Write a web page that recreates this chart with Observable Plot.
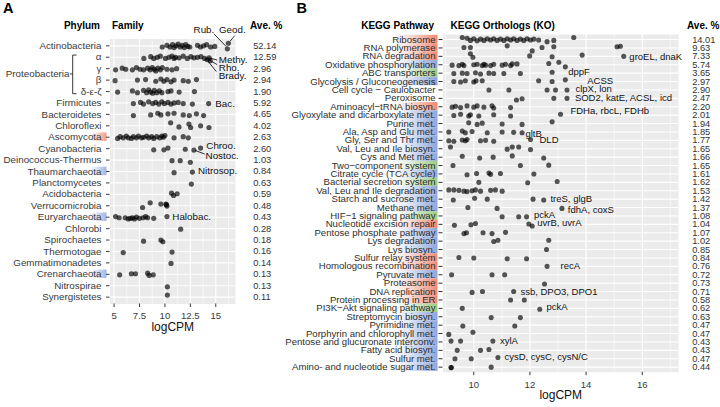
<!DOCTYPE html>
<html><head><meta charset="utf-8">
<script src="https://cdn.jsdelivr.net/npm/d3@7"></script>
<script src="https://cdn.jsdelivr.net/npm/@observablehq/plot@0.6"></script>
<style>
body{margin:0;background:#fff;}
#wrap{position:relative;width:720px;height:407px;overflow:hidden;background:#fff;}
</style></head><body><div id="wrap"></div>
<script>
const FONT = '"Liberation Sans", Arial, Helvetica, sans-serif';
const NARROW = '"Liberation Sans Narrow", "Arial Narrow", "Liberation Sans", sans-serif';

// ---------------- Panel A data ----------------
const phyla = ["Actinobacteria","α","γ","β","δ-ε-ζ","Firmicutes","Bacteroidetes","Chloroflexi","Ascomycota","Cyanobacteria","Deinococcus-Thermus","Thaumarchaeota","Planctomycetes","Acidobacteria","Verrucomicrobia","Euryarchaeota","Chlorobi","Spirochaetes","Thermotogae","Gemmatimonadetes","Crenarchaeota","Nitrospirae","Synergistetes"];
const phylaAve = ["52.14","12.59","2.96","2.94","1.90","5.92","4.65","4.02","2.63","2.60","1.03","0.84","0.63","0.59","0.48","0.43","0.28","0.18","0.16","0.14","0.13","0.13","0.11"];
const phylaGroup = ["","","","","","","","","fungi","","","archaea","","","","archaea","","","","","archaea","",""];
// each family point: [logCPM, vertical jitter in rows]
const familyPoints = [
  [[9.74,0.1],[10.2,-0.05],[10.5,0.1],[10.75,-0.1],[10.9,0.15],[11.1,0],[11.3,-0.15],[11.5,0.1],[11.7,-0.05],[11.9,0.15],[12.05,-0.1],[12.25,0.05],[12.45,0.1],[13.2,-0.05],[13.5,0.1],[13.8,0],[14.1,-0.1],[14.5,0.1],[14.9,0.05],[16.24,-0.23],[16.14,0.26]],
  [[7.93,0.1],[8.6,-0.05],[8.9,0.1],[9.25,0],[9.55,-0.1],[10.05,0.1],[10.4,0],[10.7,-0.1],[10.9,0.1],[11.05,0],[11.4,0.05],[11.8,-0.1],[12.2,0.1],[12.55,-0.05],[12.85,0.05],[13.2,0],[13.55,-0.05],[13.9,0.1],[14.15,0.2],[14.35,0.05],[14.45,0.3]],
  [[5.15,0.1],[5.8,-0.05],[6.15,0.05],[6.8,0.1],[7.2,-0.1],[7.55,0.05],[7.9,0.1],[8.3,-0.05],[8.55,0.1],[8.75,-0.1],[8.95,0.05],[9.1,0.2],[9.3,-0.05],[9.55,0.1],[9.75,-0.1],[10.2,0.05],[10.7,0.1],[11.15,0]],
  [[5.1,0.05],[7.3,0],[8.1,-0.05],[9.1,0.1],[9.6,-0.1],[9.9,0.1],[10.2,-0.05],[10.6,0.15],[10.9,0],[11.8,0.05],[12.3,0.1],[13.1,-0.05]],
  [[5.35,0.05],[6.8,-0.05],[7.3,0.1],[7.9,-0.1],[8.2,0.1],[8.4,-0.15],[8.6,0.05],[8.8,0.15],[8.95,-0.1],[9.2,0.1],[9.45,-0.05],[9.7,0.1],[10.3,0],[10.6,-0.05],[11.4,0.05],[12.9,0]],
  [[6.9,0.05],[7.6,-0.05],[7.9,0.1],[8.4,-0.1],[8.8,0.05],[9.1,-0.05],[9.4,0.1],[9.7,-0.1],[9.95,0.05],[10.3,-0.05],[10.6,0.1],[10.9,0],[11.3,-0.05],[11.8,0.05],[12.7,0.1],[14.3,0.05]],
  [[6.9,0.1],[8.6,0.05],[9.3,-0.1],[9.6,0.05],[10.3,-0.05],[10.9,-0.1],[11.8,0.05],[12.4,0.1],[13.1,-0.05],[13.8,0.1]],
  [[10.56,-0.26],[11.38,0.1],[12.36,-0.15],[12.53,0.15],[13.51,0],[14.33,0.15]],
  [[5.35,0.1],[5.6,-0.05],[5.9,0.05],[6.2,-0.1],[6.4,0.05],[6.7,0.1],[6.9,-0.05],[7.2,0.05],[7.4,-0.1],[7.7,0.05],[7.9,0],[8.2,-0.1],[8.4,0.05],[8.7,-0.05],[8.9,0.1],[9.2,-0.05],[9.5,0.05],[9.7,-0.1],[9.85,0],[10.0,-0.15],[10.9,0.05],[11.8,-0.05],[12.3,0.05]],
  [[8.9,0.1],[9.9,0.1],[10.3,-0.05],[12.0,0.05],[12.85,0.12],[13.51,-0.05]],
  [[10.7,0.05],[11.5,0.05],[12.5,0.2]],
  [[10.9,0.1],[12.7,0.05]],
  [[12.6,0.1]],
  [[10.65,-0.1],[10.85,0.1],[11.2,-0.05]],
  [[7.8,0.15],[8.55,-0.26],[9.6,-0.15],[10.1,-0.15],[10.2,0.03],[10.15,-0.1]],
  [[5.15,-0.05],[5.5,0.05],[6.1,0.05],[6.4,0.15],[6.6,0.1],[6.8,0.05],[7.0,0.15],[7.2,0],[7.5,0.1],[7.85,0.05],[8.1,-0.05],[8.3,0.05],[8.9,0.1],[10.2,-0.05]],
  [[11.55,0.05]],
  [[7.9,0.1],[9.6,0],[9.8,0.15]],
  [[5.9,0.1],[10.7,0.05]],
  [[10.6,0.05]],
  [[5.55,0.05],[6.7,-0.05],[7.1,-0.05],[8.3,-0.1],[8.45,0.1],[8.85,0.05]],
  [[10.24,0.1]],
  [[10.24,-0.18]]
];
const ticksA = [5, 7.5, 10, 12.5, 15];
const minorA = [6.25, 8.75, 11.25, 13.75, 16.25];
const annA = [
  {label:"Rub.", x:12.82, y:-1.43}, {label:"Geod.", x:15.31, y:-1.43},
  {label:"Methy.", x:15.3, y:1.25}, {label:"Rho.", x:15.3, y:1.93}, {label:"Brady.", x:15.3, y:2.6},
  {label:"Bac.", x:14.95, y:5.05}, {label:"Chroo.", x:14.07, y:8.75}, {label:"Nostoc.", x:14.0, y:9.62},
  {label:"Nitrosop.", x:13.25, y:10.94}, {label:"Halobac.", x:10.73, y:14.97}
];
const linksA = [
  {x1:14.82, y1:-1.05, x2:16.02, y2:0.06},
  {x1:16.86, y1:-0.89, x2:16.4, y2:-0.4},
  {x1:14.4, y1:1.05, x2:15.13, y2:1.25},
  {x1:14.3, y1:1.2, x2:15.13, y2:1.64},
  {x1:14.2, y1:1.3, x2:15.05, y2:2.25},
  {x1:12.95, y1:9.15, x2:13.91, y2:9.47}
];

// ---------------- Panel B data ----------------
const pathways = ["Ribosome","RNA polymerase","RNA degradation","Oxidative phosphorylation","ABC transporters","Glycolysis / Gluconeogenesis","Cell cycle − Caulobacter","Peroxisome","Aminoacyl−tRNA biosyn.","Glyoxylate and dicarboxylate met.","Purine met.","Ala, Asp and Glu met.","Gly, Ser and Thr met.","Val, Leu and Ile biosyn.","Cys and Met met.","Two−component system","Citrate cycle (TCA cycle)","Bacterial secretion system","Val, Leu and Ile degradation","Starch and sucrose met.","Methane met.","HIF−1 signaling pathway","Nucleotide excision repair","Pentose phosphate pathway","Lys degradation","Lys biosyn.","Sulfur relay system","Homologous recombination","Pyruvate met.","Proteasome","DNA replication","Protein processing in ER","PI3K−Akt signaling pathway","Streptomycin biosyn.","Pyrimidine met.","Porphyrin and chlorophyll met.","Pentose and glucuronate interconv.","Fatty acid biosyn.","Sulfur met.","Amino- and nucleotide sugar met."];
const pathwayAve = ["14.01","9.63","7.33","5.74","3.65","2.97","2.90","2.47","2.20","2.01","1.94","1.85","1.77","1.65","1.66","1.65","1.61","1.62","1.53","1.42","1.37","1.08","1.04","1.07","1.02","0.85","0.84","0.76","0.72","0.73","0.71","0.58","0.62","0.63","0.47","0.47","0.43","0.43","0.47","0.44"];
const pathwayClass = ["gen","gen","gen","met","env","met","","","gen","met","met","met","met","met","met","env","met","env","met","met","met","env","gen","met","met","met","gen","gen","met","gen","gen","gen","env","met","met","met","met","met","met","met"];
const koPoints = [
  [[9.59,-0.25],[9.76,-0.15],[9.88,0.1],[10.0,-0.1],[10.12,0.15],[10.24,-0.05],[10.36,0.1],[10.48,-0.1],[10.6,0.05],[10.71,-0.1],[10.83,0.1],[10.95,-0.05],[11.07,0.1],[11.19,-0.1],[11.31,0.05],[11.42,-0.1],[11.54,0.1],[11.66,-0.05],[11.78,0.1],[11.9,-0.1],[12.02,0.05],[12.14,-0.05],[12.31,0.05],[12.61,0.25],[12.85,0.1],[13.56,-0.25]],
  [[9.65,-0.05],[9.88,-0.05],[11.19,-0.25],[12.08,0.35],[12.43,-0.05],[12.85,-0.15],[15.1,-0.15],[15.22,-0.2]],
  [[9.88,-0.3],[9.97,0.1],[11.99,-0.05],[12.79,0.05],[13.86,-0.15],[15.34,0]],
  [[9.23,0.05],[9.47,0.1],[9.59,-0.05],[9.65,0.1],[10.0,0],[10.12,-0.05],[10.3,0.1],[10.36,-0.05],[10.42,0.05],[10.6,0.1],[10.71,-0.05],[11.01,0.05],[11.13,-0.05],[11.31,0.1],[11.37,-0.1],[11.54,-0.1],[12.67,-0.15],[13.03,-0.3],[13.26,0.25]],
  [[9.29,0.05],[9.59,0],[9.76,0.05],[10.06,-0.05],[10.24,0.1],[10.54,0],[10.71,0.05],[11.07,0.05],[11.66,0.05],[12.79,-0.1]],
  [[9.29,0],[9.53,0.05],[9.7,-0.1],[10.0,0.05],[10.08,-0.1],[10.3,-0.1],[12.31,-0.1],[12.79,0],[13.26,-0.2]],
  [[10.54,0],[11.25,0],[12.61,0],[12.91,0],[13.32,0]],
  [[11.52,0.2],[11.72,0.05],[12.85,0],[13.32,0]],
  [[9.23,0.05],[9.35,-0.05],[9.53,0.1],[9.76,-0.1],[10.0,0.05],[10.12,-0.1],[10.36,0.05],[10.65,-0.1],[10.71,0.15],[11.31,0.1]],
  [[9.29,0.05],[9.53,-0.1],[9.82,0.1],[9.88,-0.05],[10.18,0.1],[10.71,-0.05],[11.31,0.1],[13.09,-0.1]],
  [[9.82,-0.1],[10.12,0.1],[10.3,-0.05],[11.01,0.05],[11.72,0.1],[12.79,-0.2]],
  [[9.11,0],[9.59,-0.1],[9.7,0.1],[9.94,-0.05],[10.48,0.1],[11.01,0],[11.42,0.05],[11.72,0.1]],
  [[9.11,0.05],[9.29,0.1],[9.59,-0.05],[9.7,0.05],[9.76,-0.1],[10.24,0.05],[10.42,0],[10.71,0.1],[12.02,-0.1]],
  [[9.17,-0.2],[11.19,0.05],[11.37,-0.2],[11.6,-0.2],[12.02,0.1]],
  [[9.59,-0.1],[10.21,0.1],[10.69,0],[11.37,-0.15],[12.49,0.1]],
  [[9.26,0],[11.66,0],[12.67,-0.05]],
  [[9.76,0.1],[10.1,-0.05],[10.54,-0.1],[10.6,0.05],[10.95,-0.05],[12.14,0]],
  [[10.18,0],[11.92,0.05],[12.97,-0.1]],
  [[9.11,-0.1],[9.29,-0.1],[9.47,-0.05],[9.65,0.05],[9.76,0.1],[9.94,0],[10.06,-0.1],[10.24,0.05],[10.6,-0.05],[10.77,-0.1],[11.01,0.05]],
  [[9.27,0.1],[10.03,-0.1],[10.48,0],[12.11,0],[12.49,0.1]],
  [[9.79,0],[10.83,0.1],[13.14,0.1]],
  [[11.01,0.1],[11.6,0.1],[11.88,0.1]],
  [[9.31,0.1],[9.9,0.05],[10.06,-0.1],[11.96,-0.05],[12.08,0.2]],
  [[9.65,0.1],[9.74,0],[10.33,0],[10.65,0.1],[11.13,-0.05]],
  [[10.71,0.05],[10.86,-0.1],[12.67,-0.1]],
  [[12.59,0]],
  [[9.47,-0.05],[10.0,0],[11.19,0.1],[11.88,0.1]],
  [[12.61,0]],
  [[9.21,0],[10.65,0],[11.1,0]],
  [[12.52,0.1]],
  [[9.94,0.1],[10.31,0],[11.42,0]],
  [[11.31,0],[11.8,0]],
  [[9.59,0],[12.35,0.1]],
  [[10.62,0.1],[11.66,0.1]],
  [[9.61,0.1],[11.46,0.1]],
  [[9.11,0.1],[9.97,-0.15]],
  [[9.19,-0.1],[9.53,-0.1],[10.68,-0.1]],
  [[9.41,0],[10.24,0],[10.54,-0.1]],
  [[9.33,0],[9.91,0],[10.86,-0.15]],
  [[9.19,0.05],[9.2,0.05],[10.62,0]]
];
const ticksB = [10, 12, 14, 16];
const minorB = [9, 11, 13, 15, 17];
const annB = [
  {label:"groEL, dnaK", x:15.54, y:2.02}, {label:"dppF", x:13.36, y:3.81}, {label:"ACSS", x:14.04, y:4.88},
  {label:"clpX, lon", x:13.62, y:5.83}, {label:"SOD2, katE, ACSL, icd", x:13.6, y:6.94},
  {label:"FDHa, rbcL, FDHb", x:13.44, y:8.54}, {label:"gltB", x:11.84, y:11.23}, {label:"DLD", x:12.34, y:11.94},
  {label:"treS, glgB", x:12.73, y:18.96}, {label:"fdhA, coxS", x:13.35, y:20.24}, {label:"pckA", x:12.14, y:20.87},
  {label:"uvrB, uvrA", x:12.26, y:21.82}, {label:"recA", x:13.09, y:26.9}, {label:"ssb, DPO3, DPO1", x:11.66, y:30},
  {label:"pckA", x:12.59, y:31.87}, {label:"xylA", x:10.93, y:35.87}, {label:"cysD, cysC, cysN/C", x:11.09, y:37.82}
];

// ---------------- helpers ----------------
const flat = rows => rows.flatMap((row, i) => row.map(([v, j]) => ({v, y: i + j})));
const rowIdx = arr => d3.range(arr.length);

function addBands(svg, cats, colors, prefix, x0, w, h, stops) {
  const s = d3.select(svg);
  const y = svg.scale("y");
  const defs = s.insert("defs", ":first-child");
  for (const [k, c] of Object.entries(colors)) {
    const g = defs.append("linearGradient").attr("id", prefix + k)
      .attr("x1", 0).attr("x2", 1).attr("y1", 0).attr("y2", 0);
    for (const [o, a] of stops) g.append("stop").attr("offset", o).attr("stop-color", c).attr("stop-opacity", a);
  }
  const g = s.insert("g", ":first-child");
  cats.forEach((c, i) => {
    if (!colors[c]) return;
    g.append("rect").attr("x", x0).attr("width", w)
      .attr("y", y.apply(i) - h / 2).attr("height", h)
      .attr("fill", `url(#${prefix}${c})`);
  });
  return s;
}

const wrap = document.getElementById("wrap");

// ---------------- Panel A ----------------
const plotA = Plot.plot({
  width: 290, height: 345,
  marginLeft: 109.5, marginRight: 55, marginTop: 38.5, marginBottom: 41.5,
  style: {fontFamily: FONT, background: "transparent", overflow: "visible", maxWidth: "none"},
  x: {domain: [4.6, 16.94]},
  y: {domain: [phyla.length - 0.4, -0.6]},
  marks: [
    Plot.frame({fill: "#ebebeb", stroke: "none"}),
    Plot.ruleX(minorA, {stroke: "white", strokeWidth: 0.55}),
    Plot.ruleX(ticksA, {stroke: "white", strokeWidth: 1.1}),
    Plot.ruleY(rowIdx(phyla), {stroke: "white", strokeWidth: 1.1}),
    Plot.axisX(ticksA, {tickSize: 3.5, tickPadding: 5, fontSize: 9.6, color: "#3a3a3a", label: null, tickFormat: d => String(d)}),
    Plot.axisY(rowIdx(phyla), {tickSize: 3.5, tickPadding: 5, fontSize: 9.8, color: "#3a3a3a", label: null, tickFormat: i => phyla[i]}),
    Plot.dot(flat(familyPoints), {x: "v", y: "y", r: 2.6, fill: "black", fillOpacity: 0.66}),
    Plot.link(linksA, {x1: "x1", y1: "y1", x2: "x2", y2: "y2", stroke: "black", strokeWidth: 0.8}),
    Plot.text(annA, {x: "x", y: "y", text: "label", textAnchor: "start", fontSize: 9.8, fill: "#111"}),
    Plot.text(phylaAve, {y: (d, i) => i, text: d => d, frameAnchor: "right", dx: 17.7, textAnchor: "start", fontSize: 9.3, fontFamily: NARROW, fill: "#333"}),
    Plot.text(["logCPM"], {text: d => d, frameAnchor: "bottom", dy: 27, fontSize: 12, fill: "#111"})
  ]
});
const sA = addBands(plotA, phylaGroup, {fungi: "#f29a84", archaea: "#9db4e4"}, "gA-", 89, 17.5, 8.5,
  [["0%", 0], ["40%", 0.3], ["100%", 1]]);
// Proteobacteria bracket and label
{
  const y = plotA.scale("y");
  const top = y.apply(1) - 1.7, bot = y.apply(4) + 2.7, mid = y.apply(2.5);
  const g = sA.append("g").attr("stroke", "#222").attr("stroke-width", 0.9).attr("fill", "none");
  g.append("path").attr("d", `M76.5,${top}H72.7V${bot}H76.5M72.7,${mid}H70`);
  sA.append("text").attr("x", 69.5).attr("y", mid).attr("dy", "0.35em").attr("text-anchor", "end")
    .attr("font-size", 9.8).attr("fill", "#3a3a3a").text("Proteobacteria");
}
plotA.style.position = "absolute"; plotA.style.left = "0px"; plotA.style.top = "0px";
wrap.appendChild(plotA);

// ---------------- Panel B ----------------
const plotB = Plot.plot({
  width: 450, height: 407,
  marginLeft: 172.5, marginRight: 42, marginTop: 34, marginBottom: 35.3,
  style: {fontFamily: FONT, background: "transparent", overflow: "visible", maxWidth: "none"},
  x: {domain: [8.904, 17.29]},
  y: {domain: [pathways.length - 0.4, -0.6]},
  marks: [
    Plot.frame({fill: "#ebebeb", stroke: "none"}),
    Plot.ruleX(minorB, {stroke: "white", strokeWidth: 0.55}),
    Plot.ruleX(ticksB, {stroke: "white", strokeWidth: 1.1}),
    Plot.ruleY(rowIdx(pathways), {stroke: "white", strokeWidth: 1.1}),
    Plot.axisX(ticksB, {tickSize: 3.5, tickPadding: 5, fontSize: 9.6, color: "#3a3a3a", label: null, tickFormat: d => String(d)}),
    Plot.axisY(rowIdx(pathways), {tickSize: 4, tickPadding: 3.5, fontSize: 9.6, color: "#2e2e2e", label: null, tickFormat: i => pathways[i]}),
    Plot.dot(flat(koPoints), {x: "v", y: "y", r: 2.55, fill: "black", fillOpacity: 0.66}),
    Plot.text(annB, {x: "x", y: "y", text: "label", textAnchor: "start", fontSize: 9.5, fill: "#111"}),
    Plot.text(pathwayAve, {y: (d, i) => i, text: d => d, frameAnchor: "right", dx: 13.7, textAnchor: "start", fontSize: 9.3, fontFamily: NARROW, fill: "#333"}),
    Plot.text(["logCPM"], {text: d => d, frameAnchor: "bottom", dy: 26.3, fontSize: 12, fill: "#111"})
  ]
});
addBands(plotB, pathwayClass, {gen: "#ef8a76", met: "#8ea6dc", env: "#98cc84"}, "gB-", 122, 45.5, 8.45,
  [["0%", 0], ["35%", 0.25], ["100%", 1]]);
plotB.style.position = "absolute"; plotB.style.left = "270px"; plotB.style.top = "0px";
wrap.appendChild(plotB);

// ---------------- headers ----------------
const headers = [
  {t: "A", x: 3, y: 7.5, a: "start", s: 14.5},
  {t: "Phylum", x: 100, y: 25, a: "end", s: 10},
  {t: "Family", x: 112, y: 25, a: "start", s: 10},
  {t: "Ave. %", x: 250, y: 25, a: "start", s: 10},
  {t: "B", x: 296.5, y: 7.5, a: "start", s: 14.5},
  {t: "KEGG Pathway", x: 434, y: 25, a: "end", s: 10},
  {t: "KEGG Orthologs (KO)", x: 450.5, y: 25, a: "start", s: 10},
  {t: "Ave. %", x: 687, y: 25, a: "start", s: 10}
];
const ov = d3.create("svg").attr("width", 720).attr("height", 407)
  .style("position", "absolute").style("left", "0px").style("top", "0px")
  .style("pointer-events", "none").style("font-family", FONT);
ov.selectAll("text").data(headers).join("text")
  .attr("x", d => d.x).attr("y", d => d.y).attr("dy", "0.35em")
  .attr("text-anchor", d => d.a).attr("font-size", d => d.s)
  .attr("font-weight", "bold").attr("fill", "#000").text(d => d.t);
wrap.appendChild(ov.node());
</script>
</body></html>
